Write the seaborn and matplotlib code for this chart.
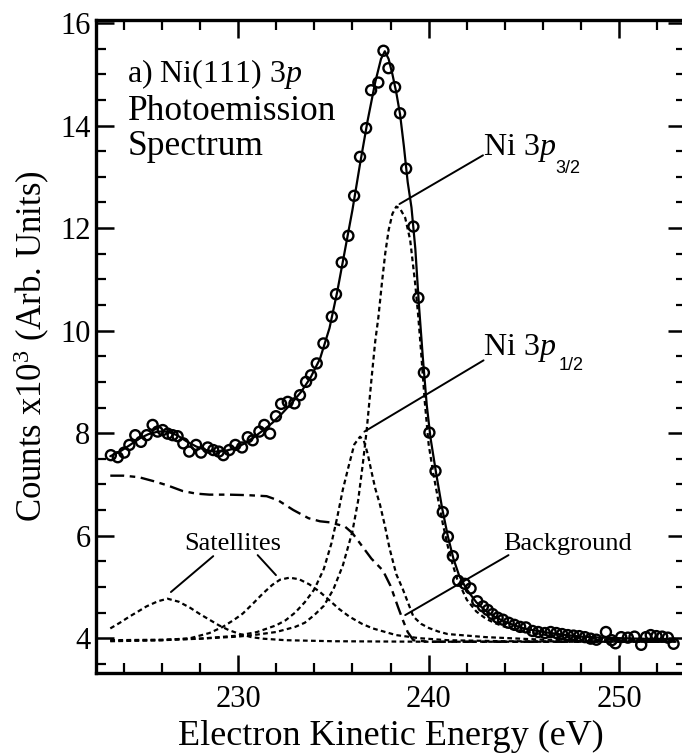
import matplotlib
matplotlib.use("Agg")
import matplotlib.pyplot as plt
import seaborn as sns
from matplotlib.ticker import FixedLocator, MultipleLocator

# ---- measured Ni(111) 3p spectrum (counts in units of 10^3) ----
energy = [223.33, 223.69, 224.03, 224.30, 224.61, 224.91, 225.21, 225.52, 225.78, 226.05,
          226.31, 226.57, 226.83, 227.13, 227.44, 227.80, 228.06, 228.41, 228.70, 228.99,
          229.23, 229.54, 229.86, 230.21, 230.51, 230.77, 231.12, 231.38, 231.68, 231.99,
          232.26, 232.61, 232.96, 233.25, 233.57, 233.83, 234.13, 234.48, 234.92, 235.14,
          235.44, 235.79, 236.09, 236.40, 236.72, 236.98, 237.36, 237.63, 237.89, 238.24,
          238.50, 238.82, 239.20, 239.46, 239.75, 240.04, 240.36, 240.74, 241.01, 241.27,
          241.55, 241.90, 242.20, 242.55, 242.85, 243.10, 243.35, 243.62, 243.90, 244.20,
          244.50, 244.80, 245.10, 245.45, 245.75, 246.10, 246.40, 246.70, 247.00, 247.30,
          247.60, 247.90, 248.20, 248.50, 248.80, 249.30, 249.60, 249.80, 250.10, 250.45,
          250.80, 251.15, 251.40, 251.65, 251.95, 252.25, 252.55, 252.85]
counts = [7.57, 7.53, 7.62, 7.77, 7.96, 7.83, 7.96, 8.16, 8.03, 8.06,
          7.99, 7.96, 7.94, 7.80, 7.64, 7.77, 7.62, 7.72, 7.67, 7.64,
          7.57, 7.67, 7.77, 7.72, 7.92, 7.86, 8.03, 8.16, 7.99, 8.33,
          8.57, 8.61, 8.58, 8.74, 9.00, 9.13, 9.36, 9.75, 10.27, 10.71,
          11.33, 11.85, 12.63, 13.39, 13.95, 14.69, 14.84, 15.46, 15.12, 14.75,
          14.24, 13.16, 12.03, 10.64, 9.18, 8.01, 7.26, 6.46, 5.98, 5.60,
          5.12, 5.06, 4.97, 4.72, 4.62, 4.55, 4.47, 4.40, 4.36, 4.30,
          4.26, 4.22, 4.21, 4.14, 4.12, 4.10, 4.12, 4.10, 4.08, 4.06,
          4.05, 4.04, 4.02, 3.99, 3.97, 4.12, 3.96, 3.90, 4.02, 4.01,
          4.03, 3.87, 4.02, 4.06, 4.04, 4.03, 4.01, 3.89]

# ---- total fit ----
fit_energy = [223.3, 223.8, 224.3, 224.8, 225.3, 225.8, 226.3, 226.8, 227.3, 227.8,
              228.3, 228.8, 229.3, 229.8, 230.3, 230.8, 231.3, 231.8, 232.3, 232.8,
              233.3, 233.8, 234.3, 234.8, 235.2, 235.6, 236.0, 236.4, 236.8, 237.2,
              237.5, 237.7, 237.9, 238.1, 238.3, 238.5, 238.7, 238.9, 239.1, 239.3,
              239.5, 239.7, 239.9, 240.1, 240.4, 240.7, 241.0, 241.3, 241.6, 242.0,
              242.5, 243.0, 243.5, 244.0, 244.5, 245.0, 246.0, 247.0, 248.0, 249.0,
              250.0, 251.0, 252.9]
fit_counts = [7.55, 7.64, 7.76, 7.89, 7.98, 8.03, 8.03, 7.96, 7.84, 7.74,
              7.67, 7.64, 7.65, 7.70, 7.79, 7.91, 8.05, 8.20, 8.38, 8.58,
              8.80, 9.08, 9.45, 10.05, 10.75, 11.55, 12.35, 13.25, 14.10, 14.85,
              15.30, 15.45, 15.30, 15.00, 14.65, 14.22, 13.60, 12.90, 12.40, 11.60,
              10.45, 9.45, 8.55, 7.90, 7.20, 6.55, 6.00, 5.55, 5.22, 4.95,
              4.70, 4.53, 4.41, 4.32, 4.25, 4.19, 4.12, 4.07, 4.03, 4.01,
              4.00, 3.99, 3.98]

# ---- fit components ----
p32_energy = [223.3, 226.0, 228.0, 230.0, 231.0, 232.0, 233.0, 233.5, 234.0, 234.5,
              235.0, 235.5, 236.0, 236.3, 236.55, 236.75, 237.0, 237.2, 237.36, 237.54,
              237.72, 237.9, 238.1, 238.3, 238.5, 238.77, 239.03, 239.29, 239.45, 239.6,
              239.8, 240.0, 240.25, 240.5, 240.75, 241.0, 241.25, 241.5, 242.0, 242.5,
              243.0, 243.5, 244.0, 245.0, 246.0, 247.0, 248.0, 250.0, 253.0]
p32_counts = [3.96, 3.97, 3.99, 4.03, 4.07, 4.12, 4.22, 4.30, 4.45, 4.63,
              4.95, 5.42, 6.08, 6.68, 7.41, 8.06, 9.05, 9.80, 10.25, 10.90,
              11.50, 11.96, 12.28, 12.42, 12.38, 12.20, 11.77, 10.93, 10.30, 9.60,
              8.60, 7.78, 7.20, 6.70, 6.22, 5.80, 5.45, 5.15, 4.75, 4.52,
              4.38, 4.29, 4.22, 4.13, 4.07, 4.03, 4.00, 3.97, 3.95]

p12_energy = [223.3, 226.0, 228.0, 230.0, 231.0, 232.0, 232.5, 233.0, 233.5, 234.0,
              234.5, 234.9, 235.2, 235.5, 235.8, 236.1, 236.4, 236.6, 236.8, 237.0,
              237.2, 237.45, 237.7, 237.95, 238.3, 238.65, 239.2, 239.6, 240.0, 240.5,
              241.0, 242.0, 243.0, 246.0, 253.0]
p12_counts = [3.95, 3.96, 3.99, 4.05, 4.12, 4.25, 4.35, 4.50, 4.70, 4.95,
              5.35, 5.85, 6.35, 6.90, 7.35, 7.78, 7.93, 7.85, 7.60, 7.25,
              6.92, 6.60, 6.20, 5.75, 5.25, 4.95, 4.42, 4.28, 4.20, 4.13,
              4.08, 4.05, 4.02, 3.97, 3.95]

sat1_energy = [223.3, 223.8, 224.3, 224.8, 225.2, 225.8, 226.3, 226.9, 227.5, 228.0,
               228.5, 229.0, 229.5, 230.1, 230.7, 231.3, 232.5, 235.0, 240.0, 253.0]
sat1_counts = [4.19, 4.30, 4.42, 4.53, 4.62, 4.72, 4.77, 4.71, 4.59, 4.47,
               4.36, 4.25, 4.16, 4.08, 4.02, 3.99, 3.96, 3.94, 3.93, 3.93]

sat2_energy = [223.3, 226.0, 227.5, 228.5, 229.2, 229.8, 230.25, 230.8, 231.3, 231.8,
               232.2, 232.7, 233.2, 233.74, 234.3, 234.79, 235.3, 235.84, 236.5, 237.07,
               238.29, 239.5, 241.0, 244.0, 253.0]
sat2_counts = [3.94, 3.96, 4.00, 4.10, 4.22, 4.36, 4.48, 4.68, 4.87, 5.04,
               5.14, 5.18, 5.15, 5.05, 4.90, 4.74, 4.57, 4.42, 4.28, 4.19,
               4.06, 4.00, 3.96, 3.94, 3.93]

bg_energy = [223.3, 224.0, 224.8, 225.6, 226.3, 227.1, 227.8, 228.5, 229.5, 230.5,
             231.5, 232.1, 232.9, 233.7, 234.3, 234.8, 235.6, 236.0, 236.4, 237.0,
             237.6, 238.0, 238.4, 238.65, 238.9, 239.2, 240.0, 253.0]
bg_counts = [7.17, 7.17, 7.14, 7.06, 6.98, 6.87, 6.82, 6.80, 6.80, 6.79,
             6.77, 6.69, 6.50, 6.34, 6.28, 6.26, 6.18, 6.05, 5.85, 5.55,
             5.32, 5.02, 4.60, 4.35, 4.12, 3.96, 3.93, 3.93]

x_ticks = [230, 240, 250]
y_ticks = [4, 6, 8, 10, 12, 14, 16]

# ---- style ----
sns.set_style("ticks", {"axes.edgecolor": "black", "text.color": "black",
                        "xtick.color": "black", "ytick.color": "black",
                        "axes.labelcolor": "black"})
plt.rcParams["font.family"] = ["Liberation Serif", "DejaVu Serif"]
plt.rcParams["mathtext.fontset"] = "custom"
plt.rcParams["mathtext.rm"] = "Liberation Serif"
plt.rcParams["mathtext.it"] = "Liberation Serif:italic"
plt.rcParams["lines.scale_dashes"] = False

W, H = 682, 753
fig = plt.figure(figsize=(W / 100, H / 100), dpi=100)
ax = fig.add_axes([96 / W, 1 - 672.5 / H, (686 - 96) / W, (672.5 - 20) / H])

short_dash = (0, (3.4, 2.4))
long_dash = (0, (10.0, 4.0, 4.0, 4.0))

for ex, cy in [(p32_energy, p32_counts), (p12_energy, p12_counts),
               (sat1_energy, sat1_counts), (sat2_energy, sat2_counts)]:
    sns.lineplot(x=ex, y=cy, ax=ax, color="black", linewidth=1.6,
                 linestyle=short_dash, sort=False, estimator=None)
sns.lineplot(x=bg_energy, y=bg_counts, ax=ax, color="black", linewidth=1.7,
             linestyle=long_dash, sort=False, estimator=None)
sns.lineplot(x=fit_energy, y=fit_counts, ax=ax, color="black", linewidth=1.6,
             sort=False, estimator=None)
sns.scatterplot(x=energy, y=counts, ax=ax, marker="o", s=52, facecolor="none",
                edgecolor="black", linewidth=1.7, zorder=5)

ax.set_xlim(222.55, 253.5)
ax.set_ylim(3.33, 16.06)
ax.xaxis.set_major_locator(FixedLocator(x_ticks))
ax.xaxis.set_minor_locator(MultipleLocator(2))
ax.yaxis.set_major_locator(FixedLocator(y_ticks))
ax.yaxis.set_minor_locator(MultipleLocator(0.5))
ax.tick_params(which="major", direction="in", length=13, width=1.8,
               top=True, right=True, labelsize=22)
ax.tick_params(which="minor", direction="in", length=7, width=1.6,
               top=True, right=True)
ax.tick_params(axis="x", which="major", pad=9)
ax.tick_params(axis="y", which="major", pad=4)
for sp in ax.spines.values():
    sp.set_linewidth(2.4)

ax.set_xlabel("Electron Kinetic Energy (eV)", fontsize=26, labelpad=4)
ax.set_ylabel(r"Counts x10$^{3}$ (Arb. Units)", fontsize=25, labelpad=6)

# ---- panel title ----
ax.text(224.17, 14.85, r"a) Ni(111) $\mathit{3p}$", fontsize=23, va="baseline")
ax.text(224.23, 14.11, "Photoemission", fontsize=25.5, va="baseline")
ax.text(224.23, 13.42, "Spectrum", fontsize=25.5, va="baseline")

# ---- peak labels and leader lines ----
line_kw = dict(arrowstyle="-", lw=1.4, color="black", shrinkA=0, shrinkB=0)
sub_font = dict(family="Liberation Sans", fontsize=13, va="baseline")

ax.text(242.86, 13.42, r"Ni $\mathit{3p}$", fontsize=23, va="baseline")
ax.text(246.64, 13.07, "3/2", **sub_font)
ax.annotate("", xy=(238.47, 12.47), xytext=(242.85, 13.42), arrowprops=line_kw)

ax.text(242.86, 9.52, r"Ni $\mathit{3p}$", fontsize=23, va="baseline")
ax.text(246.80, 9.23, "1/2", **sub_font)
ax.annotate("", xy=(236.63, 8.03), xytext=(242.88, 9.42), arrowprops=line_kw)

ax.text(243.93, 5.72, "Background", fontsize=19, va="baseline")
ax.annotate("", xy=(238.77, 4.45), xytext=(244.19, 5.62), arrowprops=line_kw)

ax.text(229.74, 5.72, "Satellites", fontsize=19, va="baseline", ha="center")
ax.annotate("", xy=(226.48, 4.90), xytext=(228.70, 5.60), arrowprops=line_kw)
ax.annotate("", xy=(231.99, 5.23), xytext=(231.03, 5.62), arrowprops=line_kw)

fig.savefig("out.png", dpi=100)
